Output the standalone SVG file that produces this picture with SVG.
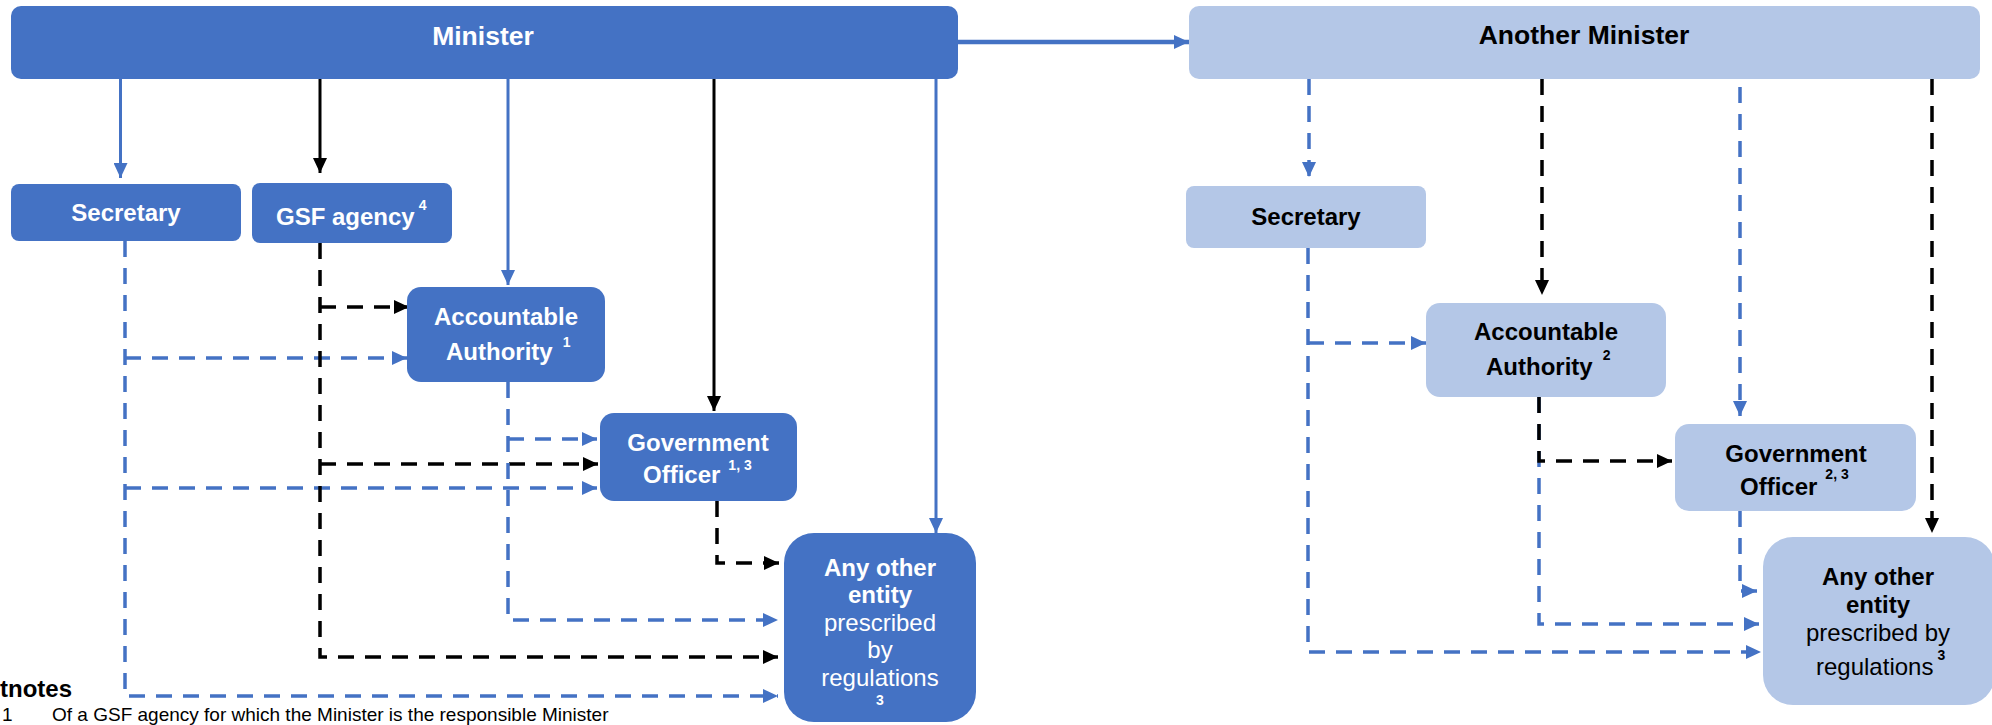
<svg xmlns="http://www.w3.org/2000/svg" width="1992" height="725" viewBox="0 0 1992 725">
<style>
text{font-family:"Liberation Sans",Arial,sans-serif;font-size:24px}
.dk{fill:#4472C4}
.lt{fill:#B4C7E7}
.tw{fill:#FFFFFF}
.tb{fill:#000000}
.b{font-weight:bold}
.t{font-size:26.5px;font-weight:bold}
.m{text-anchor:middle}
.sup{font-size:14px;font-weight:bold}
.fn{font-size:19px}
.sb{fill:none;stroke:#4472C4;stroke-width:3}
.sk{fill:none;stroke:#000;stroke-width:3}
.db{fill:none;stroke:#4472C4;stroke-width:3.5;stroke-dasharray:16 11}
.dkk{fill:none;stroke:#000;stroke-width:3.5;stroke-dasharray:16 11}
</style>
<defs>
<marker id="ab" markerUnits="userSpaceOnUse" markerWidth="15" markerHeight="14" refX="15" refY="7" orient="auto"><path d="M0,0 L15,7 L0,14 z" fill="#4472C4"/></marker>
<marker id="ak" markerUnits="userSpaceOnUse" markerWidth="15" markerHeight="14" refX="15" refY="7" orient="auto"><path d="M0,0 L15,7 L0,14 z" fill="#000"/></marker>
</defs>

<g id="connectors">
<path class="sb" style="stroke-width:4.5" d="M958,42 H1189" marker-end="url(#ab)"/>
<path class="sb" d="M120.5,79 V178" marker-end="url(#ab)"/>
<path class="sk" d="M320,79 V173" marker-end="url(#ak)"/>
<path class="sb" d="M508,79 V285" marker-end="url(#ab)"/>
<path class="sk" d="M714,79 V411" marker-end="url(#ak)"/>
<path class="sb" d="M936,79 V533" marker-end="url(#ab)"/>

<path class="db" d="M125,241 V696 H778" marker-end="url(#ab)"/>
<path class="db" d="M125,358 H407" marker-end="url(#ab)"/>
<path class="db" d="M125,488 H597" marker-end="url(#ab)"/>
<path class="dkk" d="M320,243 V657 H778" marker-end="url(#ak)"/>
<path class="dkk" d="M320,307 H409" marker-end="url(#ak)"/>
<path class="dkk" d="M320,464 H598" marker-end="url(#ak)"/>
<path class="db" d="M508,382 V620 H778" marker-end="url(#ab)"/>
<path class="db" d="M508,439 H597" marker-end="url(#ab)"/>
<path class="dkk" d="M717,501 V563 H779" marker-end="url(#ak)"/>

<path class="db" d="M1309,79 V177" marker-end="url(#ab)"/>
<path class="dkk" d="M1542,79 V295" marker-end="url(#ak)"/>
<path class="db" d="M1740,87 V416" marker-end="url(#ab)"/>
<path class="dkk" d="M1932,79 V533" marker-end="url(#ak)"/>

<path class="db" d="M1308,248 V652 H1761" marker-end="url(#ab)"/>
<path class="db" d="M1308,343 H1426" marker-end="url(#ab)"/>
<path class="db" d="M1539,397 V624 H1759" marker-end="url(#ab)"/>
<path class="dkk" d="M1539,397 V461 H1672" marker-end="url(#ak)"/>
<path class="db" d="M1740,511 V591 H1757" marker-end="url(#ab)"/>
</g>

<g id="minister">
<rect class="dk" x="11" y="6" width="947" height="73" rx="10"/>
<text class="tw t m" x="483" y="45">Minister</text>
</g>
<g id="another-minister">
<rect class="lt" x="1189" y="6" width="791" height="73" rx="10"/>
<text class="tb t m" x="1584" y="44">Another Minister</text>
</g>

<g id="secretary">
<rect class="dk" x="11" y="184" width="230" height="57" rx="8"/>
<text class="tw b m" x="126" y="221">Secretary</text>
</g>
<g id="gsf-agency">
<rect class="dk" x="252" y="183" width="200" height="60" rx="8"/>
<text class="tw b" x="276" y="225">GSF agency<tspan class="sup" dx="4" dy="-15">4</tspan></text>
</g>
<g id="accountable-authority">
<rect class="dk" x="407" y="287" width="198" height="95" rx="14"/>
<text class="tw b m" x="506" y="325">Accountable</text>
<text class="tw b" x="446" y="360">Authority<tspan class="sup" dx="10" dy="-13">1</tspan></text>
</g>
<g id="government-officer">
<rect class="dk" x="600" y="413" width="197" height="88" rx="14"/>
<text class="tw b m" x="698" y="451">Government</text>
<text class="tw b" x="643" y="483">Officer<tspan class="sup" dx="8" dy="-13">1, 3</tspan></text>
</g>
<g id="any-other-entity">
<rect class="dk" x="784" y="533" width="192" height="189" rx="30"/>
<text class="tw b m" x="880" y="576">Any other</text>
<text class="tw b m" x="880" y="603">entity</text>
<text class="tw m" x="880" y="631">prescribed</text>
<text class="tw m" x="880" y="658">by</text>
<text class="tw m" x="880" y="686">regulations</text>
<text class="tw sup m" x="880" y="705">3</text>
</g>

<g id="secretary-2">
<rect class="lt" x="1186" y="186" width="240" height="62" rx="8"/>
<text class="tb b m" x="1306" y="225">Secretary</text>
</g>
<g id="accountable-authority-2">
<rect class="lt" x="1426" y="303" width="240" height="94" rx="14"/>
<text class="tb b m" x="1546" y="340">Accountable</text>
<text class="tb b" x="1486" y="375">Authority<tspan class="sup" dx="10" dy="-15">2</tspan></text>
</g>
<g id="government-officer-2">
<rect class="lt" x="1675" y="424" width="241" height="87" rx="14"/>
<text class="tb b m" x="1796" y="462">Government</text>
<text class="tb b" x="1740" y="495">Officer<tspan class="sup" dx="8" dy="-16">2, 3</tspan></text>
</g>
<g id="any-other-entity-2">
<rect class="lt" x="1763" y="537" width="232" height="168" rx="30"/>
<text class="tb b m" x="1878" y="585">Any other</text>
<text class="tb b m" x="1878" y="613">entity</text>
<text class="tb m" x="1878" y="641">prescribed by</text>
<text class="tb" x="1816" y="675">regulations<tspan class="sup" dx="4" dy="-15">3</tspan></text>
</g>

<g id="footnotes">
<text class="tb b" x="0" y="697">tnotes</text>
<text class="tb fn" x="2" y="721">1</text>
<text class="tb fn" x="52" y="721">Of a GSF agency for which the Minister is the responsible Minister</text>
</g>
</svg>
